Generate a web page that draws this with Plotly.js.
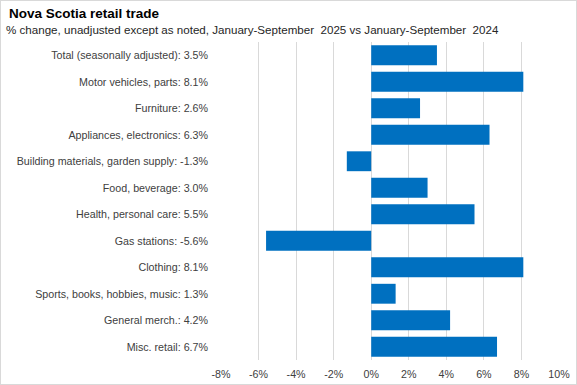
<!DOCTYPE html>
<html><head><meta charset="utf-8">
<script src="https://cdn.plot.ly/plotly-3.0.1.min.js"></script>
<style>html,body{margin:0;padding:0;background:#fff}#c{width:575px;height:383px;border:1px solid #d9d9d9}</style>
</head><body><div id="c"></div>
<script>
const categories = ["Total (seasonally adjusted)","Motor vehicles, parts","Furniture","Appliances, electronics","Building materials, garden supply","Food, beverage","Health, personal care","Gas stations","Clothing","Sports, books, hobbies, music","General merch.","Misc. retail"];
const values = [3.5, 8.1, 2.6, 6.3, -1.3, 3.0, 5.5, -5.6, 8.1, 1.3, 4.2, 6.7];
const tickVals = [-8,-6,-4,-2,0,2,4,6,8,10];
const tickText = ["-8%","-6%","-4%","-2%","0%","2%","4%","6%","8%","10%"];
const labels = categories.map((c,i)=>c+": "+values[i].toFixed(1)+"%");
const font = "Liberation Sans, Arial, sans-serif";
const plotL = 220, plotW = 575-220-17;
Plotly.newPlot("c",[{
  type:"bar", orientation:"h", x:values, y:labels,
  marker:{color:"#0070C0"}, hoverinfo:"none"
}],{
  width:575, height:383,
  margin:{l:plotL,r:17,t:41,b:24},
  bargap:0.25,
  paper_bgcolor:"#fff", plot_bgcolor:"#fff",
  font:{family:font,size:10.7,color:"#404040"},
  title:{text:"<b>Nova Scotia retail trade</b>",x:0.014,xanchor:"left",y:0.968,yanchor:"middle",font:{family:font,size:13.5,color:"#000"}},
  annotations:[{text:"% change, unadjusted except as noted, January-September  2025 vs January-September  2024",xref:"paper",yref:"paper",x:(3-plotL)/plotW,y:1.04,xanchor:"left",yanchor:"middle",showarrow:false,font:{family:font,size:11.6,color:"#262626"}}],
  xaxis:{range:[-8,10],tickvals:tickVals,ticktext:tickText,showgrid:true,gridcolor:"#d9d9d9",zeroline:false,showline:false,ticks:"",ticklabelstandoff:6,tickfont:{size:10.7,color:"#404040"},fixedrange:true},
  yaxis:{autorange:"reversed",showgrid:false,zeroline:false,ticks:"",ticklabelstandoff:12,tickfont:{size:10.7,color:"#404040"},fixedrange:true}
},{staticPlot:true});
</script></body></html>
